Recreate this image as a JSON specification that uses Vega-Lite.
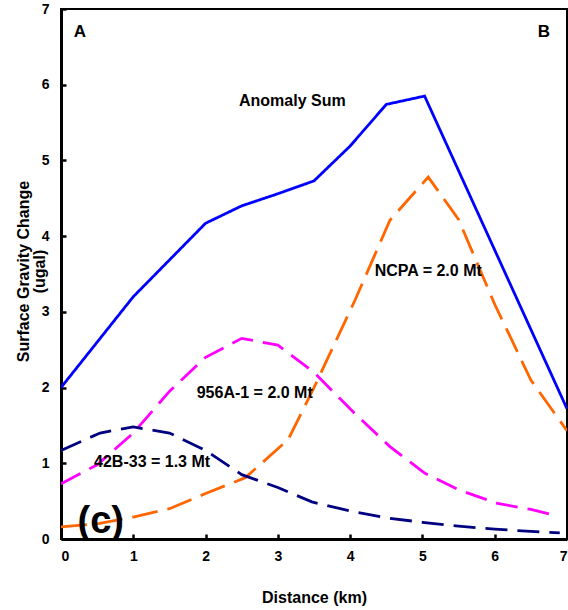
{
  "$schema": "https://vega.github.io/schema/vega-lite/v6.json",
  "width": 506,
  "height": 530,
  "autosize": "none",
  "padding": {"left": 61, "top": 9, "right": 1, "bottom": 71},
  "background": "white",
  "config": {
    "font": "Liberation Sans",
    "view": {"stroke": "black", "strokeWidth": 2},
    "axis": {
      "domainColor": "black", "domainWidth": 3, "tickColor": "black", "tickWidth": 2.5,
      "tickSize": -5, "grid": false, "labelFont": "Liberation Sans", "labelFontSize": 14,
      "labelFontWeight": "bold", "labelColor": "black", "titleFont": "Liberation Sans",
      "titleFontSize": 16, "titleFontWeight": "bold", "titleColor": "black", "format": "d"
    }
  },
  "datasets": {
    "lines": [
      {"series": "Anomaly Sum", "x": 0, "y": 2.0},
      {"series": "Anomaly Sum", "x": 1, "y": 3.2},
      {"series": "Anomaly Sum", "x": 2, "y": 4.17},
      {"series": "Anomaly Sum", "x": 2.5, "y": 4.4},
      {"series": "Anomaly Sum", "x": 3, "y": 4.56},
      {"series": "Anomaly Sum", "x": 3.5, "y": 4.73},
      {"series": "Anomaly Sum", "x": 4, "y": 5.19},
      {"series": "Anomaly Sum", "x": 4.5, "y": 5.74},
      {"series": "Anomaly Sum", "x": 5.03, "y": 5.85},
      {"series": "Anomaly Sum", "x": 7, "y": 1.72},
      {"series": "NCPA", "x": 0, "y": 0.16},
      {"series": "NCPA", "x": 0.5, "y": 0.2},
      {"series": "NCPA", "x": 1, "y": 0.29},
      {"series": "NCPA", "x": 1.5, "y": 0.4},
      {"series": "NCPA", "x": 2, "y": 0.6},
      {"series": "NCPA", "x": 2.55, "y": 0.81},
      {"series": "NCPA", "x": 3.14, "y": 1.31},
      {"series": "NCPA", "x": 3.5, "y": 2.0},
      {"series": "NCPA", "x": 4.07, "y": 3.16},
      {"series": "NCPA", "x": 4.55, "y": 4.21},
      {"series": "NCPA", "x": 5.08, "y": 4.78},
      {"series": "NCPA", "x": 5.5, "y": 4.22},
      {"series": "NCPA", "x": 6, "y": 3.1},
      {"series": "NCPA", "x": 6.5, "y": 2.1},
      {"series": "NCPA", "x": 7, "y": 1.43},
      {"series": "956A-1", "x": 0, "y": 0.73},
      {"series": "956A-1", "x": 0.5, "y": 0.98},
      {"series": "956A-1", "x": 1, "y": 1.4},
      {"series": "956A-1", "x": 1.5, "y": 1.95},
      {"series": "956A-1", "x": 2, "y": 2.4},
      {"series": "956A-1", "x": 2.5, "y": 2.65},
      {"series": "956A-1", "x": 3, "y": 2.56},
      {"series": "956A-1", "x": 3.5, "y": 2.2},
      {"series": "956A-1", "x": 4.04, "y": 1.68},
      {"series": "956A-1", "x": 4.55, "y": 1.22},
      {"series": "956A-1", "x": 5.03, "y": 0.87},
      {"series": "956A-1", "x": 5.5, "y": 0.65},
      {"series": "956A-1", "x": 6.04, "y": 0.47},
      {"series": "956A-1", "x": 6.5, "y": 0.39},
      {"series": "956A-1", "x": 6.85, "y": 0.31},
      {"series": "42B-33", "x": 0, "y": 1.17},
      {"series": "42B-33", "x": 0.54, "y": 1.4},
      {"series": "42B-33", "x": 1, "y": 1.48},
      {"series": "42B-33", "x": 1.5, "y": 1.4},
      {"series": "42B-33", "x": 2, "y": 1.17},
      {"series": "42B-33", "x": 2.5, "y": 0.85},
      {"series": "42B-33", "x": 3, "y": 0.68},
      {"series": "42B-33", "x": 3.47, "y": 0.49},
      {"series": "42B-33", "x": 4, "y": 0.37},
      {"series": "42B-33", "x": 4.5, "y": 0.28},
      {"series": "42B-33", "x": 5, "y": 0.22},
      {"series": "42B-33", "x": 5.5, "y": 0.17},
      {"series": "42B-33", "x": 6, "y": 0.13},
      {"series": "42B-33", "x": 6.5, "y": 0.1},
      {"series": "42B-33", "x": 6.9, "y": 0.08}
    ],
    "labels": [
      {"text": "A", "x": 0.26, "y": 6.69, "size": 17},
      {"text": "B", "x": 6.68, "y": 6.69, "size": 17},
      {"text": "Anomaly Sum", "x": 3.2, "y": 5.79, "size": 16},
      {"text": "NCPA = 2.0 Mt", "x": 5.08, "y": 3.54, "size": 16},
      {"text": "956A-1 = 2.0 Mt", "x": 2.68, "y": 1.93, "size": 16},
      {"text": "42B-33 = 1.3 Mt", "x": 1.26, "y": 1.02, "size": 16},
      {"text": "(c)", "x": 0.55, "y": 0.22, "size": 38}
    ]
  },
  "layer": [
    {
      "data": {"name": "lines"},
      "mark": {"type": "line", "strokeWidth": 2.8, "clip": true},
      "encoding": {
        "x": {"field": "x", "type": "quantitative", "scale": {"domain": [0, 7], "nice": false},
          "axis": {"values": [0, 1, 2, 3, 4, 5, 6, 7], "title": "Distance (km)", "labelPadding": 15, "titlePadding": 26}},
        "y": {"field": "y", "type": "quantitative", "scale": {"domain": [0, 7], "nice": false},
          "axis": {"values": [0, 1, 2, 3, 4, 5, 6, 7], "title": ["Surface Gravity Change", "(ugal)"], "labelPadding": 17,
            "titleX": -38, "titleY": 262, "titleAlign": "center", "titleBaseline": "middle", "titleAngle": -90, "titleLineHeight": 16}},
        "detail": {"field": "series"},
        "color": {"field": "series", "type": "nominal", "legend": null,
          "scale": {"domain": ["Anomaly Sum", "NCPA", "956A-1", "42B-33"], "range": ["#0000FF", "#FF6600", "#FF00FF", "#000080"]}},
        "strokeDash": {"field": "series", "type": "nominal", "legend": null,
          "scale": {"domain": ["Anomaly Sum", "NCPA", "956A-1", "42B-33"], "range": [[1, 0], [26, 10], [22, 10], [22, 10]]}}
      }
    },
    {
      "data": {"name": "labels"},
      "mark": {"type": "text", "fontWeight": "bold", "color": "black", "align": "center", "baseline": "middle"},
      "encoding": {
        "x": {"field": "x", "type": "quantitative"},
        "y": {"field": "y", "type": "quantitative"},
        "text": {"field": "text"},
        "size": {"field": "size", "type": "quantitative", "scale": null, "legend": null}
      }
    }
  ]
}
